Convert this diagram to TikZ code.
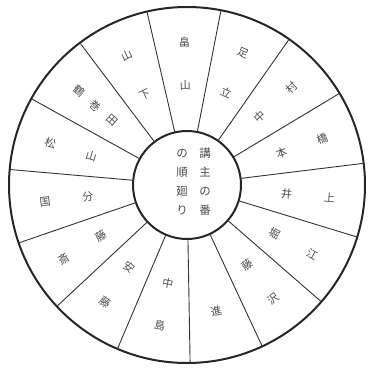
\documentclass[tikz,border=0pt]{standalone}
\usepackage{fontspec}
\newfontfamily\jpfont{Noto Sans CJK JP}

\tikzset{
  ring/.style={line width=2pt, draw=black!85},
  spoke/.style={line width=0.9pt, draw=black!80},
  kanji/.style={font=\jpfont\fontsize{11}{13}\selectfont, text=black!70, inner sep=0pt},
  column/.style={kanji, align=center, font=\jpfont\fontsize{11.5}{19}\selectfont},
}

\begin{document}
\begin{tikzpicture}[x=1bp, y=1bp]
            \useasboundingbox (0,0) rectangle (369,369);
            \begin{scope}[shift={(187,184)}]
            % ==== RINGS ====
            \draw[ring] (0,0) circle (178);
            \draw[ring] (0,0) circle (54);
            % ==== SPOKES ====
            \foreach \k in {0,...,14}
                \draw[spoke] ({103-24*\k}:54) -- ({103-24*\k}:178);
            % ==== NAMES (outer / inner) ====
            \foreach \k/\o/\i in {0/畠/山, 1/足/立, 2/村/中, 3/橋/本, 4/上/井, 5/江/堀,
                                  6/沢/藤, 8/島/中, 9/藤/安, 10/斎/藤, 11/国/分,
                                  12/松/山, 14/山/下} {
                \pgfmathsetmacro\t{91-24*\k}
                \pgfmathsetmacro\r{\t-90*round(\t/90)}
                \node[kanji, rotate=\r] (out\k) at (\t:143) {\o};
                \node[kanji, rotate=\r] (in\k) at (\t:100) {\i};
            }
            \node[kanji, rotate=13] (mid7) at (-77:130) {進};
            \node[kanji, rotate=-41] (out13) at (139:143) {鶴};
            \node[kanji, rotate=-41] (mid13) at (139:121) {巻};
            \node[kanji, rotate=-41] (in13) at (139:99) {田};
            % ==== CENTRE ====
            \node[column] (right) at (18,3) {講\\主\\の\\番};
            \node[column] (left) at (-5,3) {の\\順\\廻\\り};
            \end{scope}
\end{tikzpicture}
\end{document}
